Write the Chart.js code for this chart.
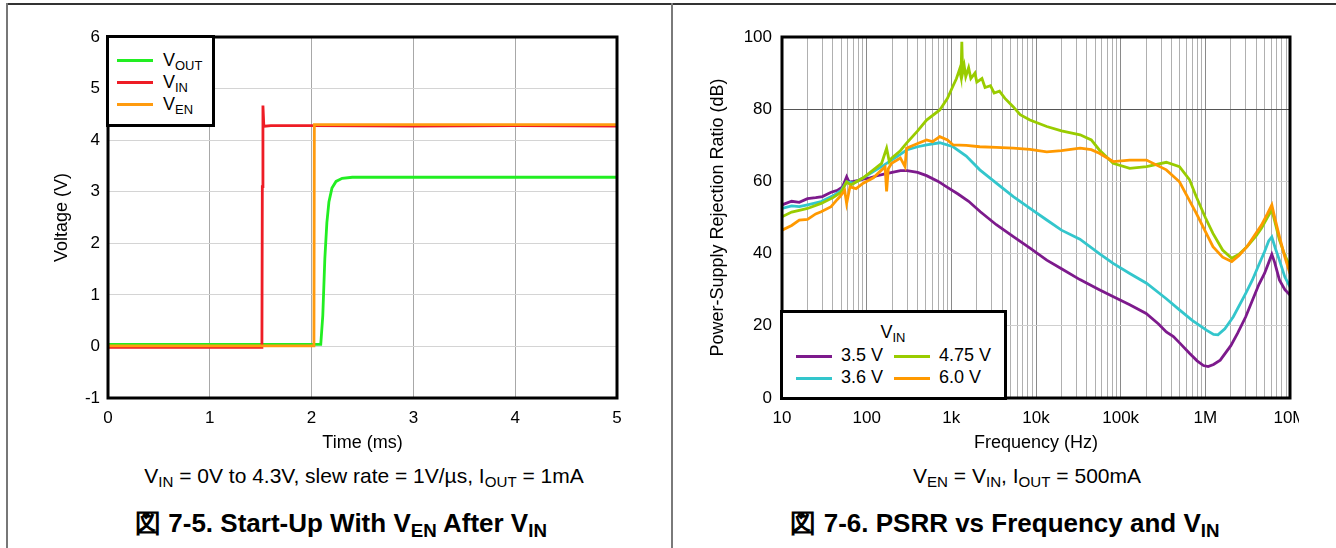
<!DOCTYPE html>
<html>
<head>
<meta charset="utf-8">
<script src="https://cdn.jsdelivr.net/npm/chart.js@4/dist/chart.umd.min.js"></script>
<style>
  html, body { margin: 0; padding: 0; background: #fff; }
  body { width: 1336px; height: 548px; position: relative; overflow: hidden;
         font-family: "Liberation Sans", Arial, sans-serif; color: #000; }
  .abs { position: absolute; }
  .rule { position: absolute; }
  .legend { position: absolute; box-sizing: border-box; border: 3px solid #000; background: #fff; }
  .swatch { position: absolute; height: 3px; }
  .ltext { position: absolute; font-size: 18px; line-height: 20px; white-space: nowrap; }
  .cap { position: absolute; text-align: center; white-space: nowrap; }
  sub { font-size: 0.72em; vertical-align: -0.28em; line-height: 0; }
  .sub { font-size: 21px; line-height: 26px; }
  .title { font-size: 26px; line-height: 30px; font-weight: bold; }
</style>
</head>
<body>

<div class="rule" style="left:7px;top:3px;right:0;height:2px;background:#333"></div>
<div class="rule" style="left:6px;top:3px;width:2px;bottom:0;background:#777"></div>
<div class="rule" style="left:671px;top:3px;width:2px;bottom:0;background:#7a7a7a"></div>

<canvas id="startup" class="abs" style="left:0;top:0" width="670" height="460"></canvas>
<div class="abs" style="left:672px;top:0;width:627px;height:460px;overflow:hidden">
  <canvas id="psrr" width="664" height="460"></canvas>
</div>

<!-- legend, left chart -->
<div class="legend" style="left:106px;top:35px;width:109px;height:92px"></div>
<div class="swatch" style="left:117px;top:59px;width:36px;background:#22ee22"></div>
<div class="ltext" style="left:163px;top:50px">V<sub>OUT</sub></div>
<div class="swatch" style="left:117px;top:81px;width:36px;background:#ee1c25"></div>
<div class="ltext" style="left:163px;top:72px">V<sub>IN</sub></div>
<div class="swatch" style="left:117px;top:103px;width:36px;background:#ff9b0f"></div>
<div class="ltext" style="left:163px;top:94px">V<sub>EN</sub></div>

<!-- legend, right chart -->
<div class="legend" style="left:780px;top:310px;width:227px;height:90px"></div>
<div class="ltext" style="left:853px;top:322px;width:80px;text-align:center">V<sub>IN</sub></div>
<div class="swatch" style="left:796px;top:355px;width:36px;background:#7d1a8c"></div>
<div class="ltext" style="left:841px;top:345px">3.5 V</div>
<div class="swatch" style="left:894px;top:355px;width:36px;background:#99cc00"></div>
<div class="ltext" style="left:939px;top:345px">4.75 V</div>
<div class="swatch" style="left:796px;top:377px;width:36px;background:#33c6cc"></div>
<div class="ltext" style="left:841px;top:367px">3.6 V</div>
<div class="swatch" style="left:894px;top:377px;width:36px;background:#ff9900"></div>
<div class="ltext" style="left:939px;top:367px">6.0 V</div>

<!-- captions -->
<div class="cap sub" style="left:64px;width:600px;top:463px">V<sub>IN</sub> = 0V to 4.3V, slew rate = 1V/µs, I<sub>OUT</sub> = 1mA</div>
<div class="cap title" style="left:41px;width:600px;top:508px">図 7-5. Start-Up With V<sub>EN</sub> After V<sub>IN</sub></div>
<div class="cap sub" style="left:727px;width:600px;top:463px">V<sub>EN</sub> = V<sub>IN</sub>, I<sub>OUT</sub> = 500mA</div>
<div class="cap title" style="left:705px;width:600px;top:508px">図 7-6. PSRR vs Frequency and V<sub>IN</sub></div>

<script>
// ---- Start-up (time in ms, voltage in V)
const voutTime = [0, 0.5, 1.0, 1.5, 2.0, 2.09, 2.11, 2.13, 2.15, 2.17, 2.2, 2.24, 2.3, 2.4, 3.0, 3.5, 4.0, 4.5, 5.0];
const voutVolts = [0.04, 0.04, 0.04, 0.04, 0.04, 0.04, 0.6, 1.7, 2.4, 2.8, 3.07, 3.2, 3.26, 3.28, 3.28, 3.28, 3.28, 3.28, 3.28];
const vinTime = [0, 0.5, 1.0, 1.512, 1.516, 1.522, 1.53, 1.54, 1.6, 2.0, 3.0, 4.0, 5.0];
const vinVolts = [-0.02, -0.02, -0.02, -0.02, 3.1, 4.67, 4.3, 4.27, 4.28, 4.28, 4.27, 4.28, 4.27];
const venTime = [0, 0.5, 1.0, 1.5, 2.023, 2.027, 2.5, 3.0, 4.0, 5.0];
const venVolts = [0.01, 0.01, 0.01, 0.01, 0.01, 4.3, 4.3, 4.3, 4.3, 4.3];

// ---- PSRR (frequency in Hz, PSRR in dB)
const psrr35Freq = [10, 13, 16, 20, 25, 30, 38, 45, 52, 58, 62, 70, 80, 91, 110, 130, 160, 200, 250, 300, 400, 510, 700, 880, 1200, 1600, 2200, 3400, 5400, 8500, 13400, 20000, 33000, 56000, 81000, 128000, 200000, 280000, 346000, 420000, 500000, 650000, 800000, 950000, 1080000, 1250000, 1500000, 2000000, 2400000, 3000000, 3600000, 4300000, 5000000, 5600000, 6100000, 6600000, 7500000, 8700000, 10000000];
const psrr35Db = [53.5, 54.5, 54.2, 55.2, 55.5, 55.8, 57, 57.5, 58.5, 61.3, 59.8, 60, 60.3, 60.6, 61, 61.5, 62, 62.5, 63, 63, 62.5, 61.6, 60, 58.5, 56.5, 54.5, 51.6, 48, 44.7, 41.5, 38.2, 35.8, 32.8, 30, 28.1, 25.8, 23.4, 20.5, 18.3, 17, 15.2, 12.4, 10.3, 9, 8.7, 9.3, 10.5, 14.5, 17.9, 22.5, 27.1, 31.5, 34.5, 37.5, 39.8, 37.5, 32.7, 30, 28.5];

const psrr36Freq = [10, 13, 16, 20, 29, 40, 50, 58, 70, 91, 120, 160, 197, 250, 296, 400, 510, 730, 1050, 1500, 2170, 3400, 5400, 8500, 13400, 20000, 33000, 56000, 81500, 128000, 202000, 346000, 495000, 700000, 1030000, 1250000, 1410000, 1700000, 2140000, 3000000, 3600000, 4300000, 5000000, 5600000, 6100000, 6700000, 7500000, 8700000, 10000000];
const psrr36Db = [52.5, 53.2, 53, 53.5, 54.4, 56, 57.5, 59.9, 59.5, 61, 62.7, 64.5, 65.9, 67.5, 68.7, 69.6, 70.1, 70.7, 69.6, 67, 63.2, 59.5, 55.8, 52.5, 49.3, 46.5, 44, 40, 37.3, 34.5, 31.8, 27.5, 24.4, 21.5, 18.8, 17.6, 17.5, 19.2, 22.5, 29, 32.7, 37, 40.5, 43.5, 44.6, 41.5, 38.2, 33.5, 30.8];

const psrr475Freq = [10, 13, 16, 20, 29, 40, 50, 58, 65, 91, 120, 150, 172, 185, 197, 250, 296, 400, 510, 730, 900, 1050, 1150, 1250, 1300, 1330, 1360, 1420, 1480, 1600, 1700, 1900, 2000, 2300, 2500, 2900, 3200, 3700, 4300, 5370, 6500, 8480, 13400, 20000, 33200, 45000, 56000, 81500, 128000, 202000, 346000, 495000, 650000, 780000, 1000000, 1230000, 1600000, 2050000, 2500000, 3100000, 4000000, 4600000, 5400000, 6100000, 6600000, 7500000, 8700000, 10000000];
const psrr475Db = [50.2, 51.5, 52, 52.5, 53.9, 55.5, 57, 59.9, 59, 61, 63.2, 65, 69.2, 65.5, 66.4, 68.5, 70.6, 74, 77, 79.8, 83, 86.5, 88.5, 91, 89, 98.7, 90, 92, 89, 91.5, 88.5, 90, 87.5, 88.5, 86, 86.5, 84.5, 85, 83, 80.7, 78.5, 77, 75.2, 74, 72.9, 71.5, 68.7, 65, 63.6, 64.1, 65.3, 64.1, 60.5, 55.8, 50, 45.6, 41, 38.7, 39.8, 41.9, 45, 47, 50, 52.1, 49, 43.8, 39.5, 36.4];

const psrr60Freq = [10, 13, 16, 20, 25, 29, 38, 45, 48.5, 55, 58, 63.5, 75, 91, 120, 143, 165, 172, 180, 197, 250, 284, 296, 400, 510, 600, 730, 900, 1050, 1500, 2170, 3400, 5370, 8480, 13400, 20000, 33200, 45000, 56000, 81500, 128000, 202000, 346000, 495000, 780000, 1230000, 1600000, 2050000, 2500000, 3100000, 4600000, 5400000, 6100000, 6600000, 7500000, 8700000, 10000000];
const psrr60Db = [46.5, 47.8, 49.3, 49.5, 51, 51.6, 53, 55, 55.8, 57.5, 53.9, 58.5, 58, 59.5, 61, 62.7, 64, 57.2, 63.5, 65, 66.5, 64.1, 69.2, 70.5, 71.5, 71, 72.4, 71.5, 70.1, 70, 69.6, 69.4, 69.2, 68.9, 68.2, 68.5, 69.2, 68.8, 67.8, 65.5, 65.9, 65.9, 63.2, 59.9, 51.2, 41.9, 39, 37.8, 39.5, 41.9, 47.9, 51, 53.5, 50, 44.7, 39, 34.5];

const freqTickValues = [10, 100, 1000, 10000, 100000, 1000000, 10000000];
const freqTickLabels = ["10", "100", "1k", "10k", "100k", "1M", "10M"];

// -----------------------------------------------------------------------------

Chart.defaults.font.family = '"Liberation Sans", Arial, sans-serif';
Chart.defaults.color = "#000";

function toPoints(xs, ys) {
  return xs.map((x, i) => ({ x, y: ys[i] }));
}

// black box round the plot area
const plotFrame = {
  id: "plotFrame",
  afterDatasetsDraw(chart) {
    const { ctx, chartArea: a } = chart;
    ctx.save();
    ctx.strokeStyle = "#000";
    ctx.lineWidth = 3;
    ctx.strokeRect(a.left, a.top, a.right - a.left, a.bottom - a.top);
    ctx.restore();
  },
};

function lineSet(label, points, color, width, order) {
  return {
    label,
    data: points,
    showLine: true,
    borderColor: color,
    backgroundColor: color,
    borderWidth: width,
    pointRadius: 0,
    tension: 0,
    order,
  };
}

new Chart(document.getElementById("startup"), {
  type: "scatter",
  data: {
    datasets: [
      lineSet("VOUT", toPoints(voutTime, voutVolts), "#22ee22", 2.8, 3),
      lineSet("VIN", toPoints(vinTime, vinVolts), "#ee1c25", 2.8, 2),
      lineSet("VEN", toPoints(venTime, venVolts), "#ff9b0f", 2.8, 1),
    ],
  },
  plugins: [plotFrame],
  options: {
    responsive: false,
    animation: false,
    events: [],
    layout: { padding: { left: 0, top: 37, right: 53, bottom: 0 } },
    plugins: { legend: { display: false }, tooltip: { enabled: false } },
    scales: {
      x: {
        type: "linear",
        min: 0,
        max: 5,
        ticks: { stepSize: 1, padding: 10, font: { size: 17 }, maxRotation: 0 },
        grid: { color: "#a8a8a8", drawTicks: false },
        border: { display: false },
        title: { display: true, text: "Time (ms)", font: { size: 18 }, padding: { top: 0, bottom: 6 } },
        afterFit(scale) { scale.height = 62; },
      },
      y: {
        min: -1,
        max: 6,
        ticks: { stepSize: 1, padding: 8, font: { size: 17 } },
        grid: { color: "#d4d4d4", drawTicks: false },
        border: { display: false },
        title: { display: true, text: "Voltage (V)", font: { size: 18 }, padding: { top: 51, bottom: 0 } },
        afterFit(scale) { scale.width = 108; },
      },
    },
  },
});

new Chart(document.getElementById("psrr"), {
  type: "scatter",
  data: {
    datasets: [
      lineSet("3.5 V", toPoints(psrr35Freq, psrr35Db), "#7d1a8c", 2.8, 4),
      lineSet("3.6 V", toPoints(psrr36Freq, psrr36Db), "#33c6cc", 2.8, 3),
      lineSet("4.75 V", toPoints(psrr475Freq, psrr475Db), "#99cc00", 2.8, 2),
      lineSet("6.0 V", toPoints(psrr60Freq, psrr60Db), "#ff9900", 2.8, 1),
    ],
  },
  plugins: [plotFrame],
  options: {
    responsive: false,
    animation: false,
    events: [],
    layout: { padding: { left: 0, top: 37, right: 46, bottom: 0 } },
    plugins: { legend: { display: false }, tooltip: { enabled: false } },
    scales: {
      x: {
        type: "logarithmic",
        min: 10,
        max: 10000000,
        afterBuildTicks(scale) {
          const ticks = [];
          for (let d = 10; d < 10000000; d *= 10) {
            for (let m = 1; m < 10; m++) ticks.push({ value: m * d });
          }
          ticks.push({ value: 10000000 });
          scale.ticks = ticks;
        },
        ticks: {
          autoSkip: false,
          maxRotation: 0,
          minRotation: 0,
          padding: 10,
          font: { size: 17 },
          callback(value) {
            const i = freqTickValues.indexOf(value);
            return i >= 0 ? freqTickLabels[i] : "";
          },
        },
        grid: {
          drawTicks: false,
          color: (ctx) => (ctx.tick && freqTickValues.includes(ctx.tick.value) ? "#8a8a8a" : "#b0b0b0"),
        },
        border: { display: false },
        title: { display: true, text: "Frequency (Hz)", font: { size: 18 }, padding: { top: 0, bottom: 6 } },
        afterFit(scale) { scale.height = 62; },
      },
      y: {
        min: 0,
        max: 100,
        ticks: { stepSize: 20, padding: 10, font: { size: 17 } },
        grid: {
          drawTicks: false,
          color: (ctx) => (ctx.tick && ctx.tick.value === 80 ? "#555" : "#cfcfcf"),
        },
        border: { display: false },
        title: { display: true, text: "Power-Supply Rejection Ratio (dB)", font: { size: 18 }, padding: { top: 35, bottom: 0 } },
        afterFit(scale) { scale.width = 110; },
      },
    },
  },
});
</script>
</body>
</html>
